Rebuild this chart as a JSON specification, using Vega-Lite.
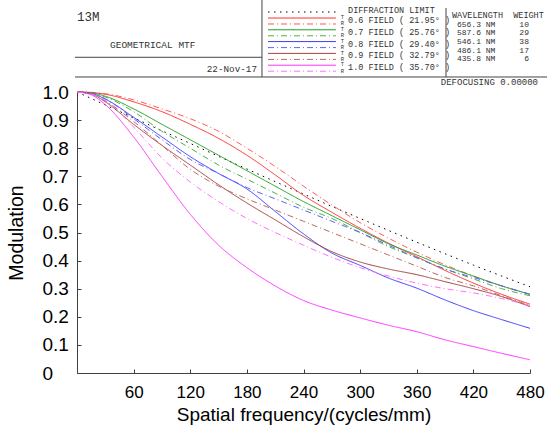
{
  "$schema": "https://vega.github.io/schema/vega-lite/v6.json",
  "width": 453,
  "height": 281,
  "autosize": {"type": "none"},
  "padding": {"left": 77, "top": 92, "right": 17, "bottom": 61},
  "background": "white",
  "resolve": {"axis": {"x": "independent", "y": "independent"}},
  "config": {
    "view": {"stroke": null},
    "legend": {"disable": true},
    "axis": {
      "grid": false,
      "domainColor": "#404040",
      "tickColor": "#404040",
      "labelColor": "#000000",
      "titleColor": "#000000",
      "labelFont": "Liberation Sans",
      "titleFont": "Liberation Sans",
      "titleFontWeight": "normal",
      "labelFlush": false,
      "labelOverlap": false
    },
    "text": {"font": "Liberation Mono", "color": "#333333", "baseline": "middle", "align": "left", "fontSize": 8.5},
    "rule": {"strokeWidth": 1}
  },
  "datasets": {
    "mtf": [
      {"f": 0, "DL": 1, "F06T": 1, "F06R": 1, "F07T": 1, "F07R": 1, "F08T": 1, "F08R": 1, "F09T": 1, "F09R": 1, "F10T": 1, "F10R": 1},
      {"f": 15, "DL": 0.977, "F06T": 0.998, "F06R": 0.999, "F07T": 0.997, "F07R": 0.996, "F08T": 0.995, "F08R": 0.995, "F09T": 0.993, "F09R": 0.993, "F10T": 0.99, "F10R": 0.993},
      {"f": 30, "DL": 0.954, "F06T": 0.992, "F06R": 0.994, "F07T": 0.985, "F07R": 0.982, "F08T": 0.975, "F08R": 0.975, "F09T": 0.965, "F09R": 0.968, "F10T": 0.955, "F10R": 0.97},
      {"f": 60, "DL": 0.908, "F06T": 0.965, "F06R": 0.972, "F07T": 0.94, "F07R": 0.93, "F08T": 0.91, "F08R": 0.905, "F09T": 0.885, "F09R": 0.895, "F10T": 0.84, "F10R": 0.875},
      {"f": 90, "DL": 0.862, "F06T": 0.93, "F06R": 0.94, "F07T": 0.885, "F07R": 0.86, "F08T": 0.84, "F08R": 0.83, "F09T": 0.81, "F09R": 0.81, "F10T": 0.7, "F10R": 0.765},
      {"f": 120, "DL": 0.817, "F06T": 0.885, "F06R": 0.905, "F07T": 0.83, "F07R": 0.8, "F08T": 0.77, "F08R": 0.76, "F09T": 0.74, "F09R": 0.725, "F10T": 0.565, "F10R": 0.68},
      {"f": 150, "DL": 0.771, "F06T": 0.835, "F06R": 0.86, "F07T": 0.775, "F07R": 0.74, "F08T": 0.71, "F08R": 0.71, "F09T": 0.67, "F09R": 0.665, "F10T": 0.455, "F10R": 0.61},
      {"f": 180, "DL": 0.726, "F06T": 0.775, "F06R": 0.8, "F07T": 0.72, "F07R": 0.69, "F08T": 0.655, "F08R": 0.66, "F09T": 0.605, "F09R": 0.62, "F10T": 0.375, "F10R": 0.55},
      {"f": 210, "DL": 0.681, "F06T": 0.705, "F06R": 0.735, "F07T": 0.665, "F07R": 0.64, "F08T": 0.575, "F08R": 0.62, "F09T": 0.545, "F09R": 0.58, "F10T": 0.31, "F10R": 0.5},
      {"f": 240, "DL": 0.637, "F06T": 0.632, "F06R": 0.665, "F07T": 0.61, "F07R": 0.59, "F08T": 0.495, "F08R": 0.58, "F09T": 0.485, "F09R": 0.54, "F10T": 0.258, "F10R": 0.455},
      {"f": 270, "DL": 0.593, "F06T": 0.572, "F06R": 0.598, "F07T": 0.56, "F07R": 0.55, "F08T": 0.427, "F08R": 0.54, "F09T": 0.432, "F09R": 0.5, "F10T": 0.224, "F10R": 0.412},
      {"f": 300, "DL": 0.55, "F06T": 0.515, "F06R": 0.535, "F07T": 0.51, "F07R": 0.5, "F08T": 0.383, "F08R": 0.5, "F09T": 0.395, "F09R": 0.46, "F10T": 0.196, "F10R": 0.375},
      {"f": 330, "DL": 0.5075, "F06T": 0.462, "F06R": 0.48, "F07T": 0.46, "F07R": 0.45, "F08T": 0.338, "F08R": 0.455, "F09T": 0.37, "F09R": 0.42, "F10T": 0.17, "F10R": 0.345},
      {"f": 360, "DL": 0.4655, "F06T": 0.414, "F06R": 0.43, "F07T": 0.42, "F07R": 0.41, "F08T": 0.302, "F08R": 0.41, "F09T": 0.35, "F09R": 0.38, "F10T": 0.147, "F10R": 0.32},
      {"f": 390, "DL": 0.4244, "F06T": 0.365, "F06R": 0.385, "F07T": 0.38, "F07R": 0.37, "F08T": 0.26, "F08R": 0.37, "F09T": 0.325, "F09R": 0.34, "F10T": 0.118, "F10R": 0.3},
      {"f": 420, "DL": 0.384, "F06T": 0.32, "F06R": 0.345, "F07T": 0.345, "F07R": 0.335, "F08T": 0.222, "F08R": 0.34, "F09T": 0.3, "F09R": 0.31, "F10T": 0.094, "F10R": 0.285},
      {"f": 450, "DL": 0.345, "F06T": 0.28, "F06R": 0.31, "F07T": 0.31, "F07R": 0.3, "F08T": 0.19, "F08R": 0.31, "F09T": 0.272, "F09R": 0.275, "F10T": 0.07, "F10R": 0.265},
      {"f": 480, "DL": 0.307, "F06T": 0.245, "F06R": 0.28, "F07T": 0.28, "F07R": 0.275, "F08T": 0.159, "F08R": 0.28, "F09T": 0.236, "F09R": 0.24, "F10T": 0.047, "F10R": 0.24}
    ]
  },
  "layer": [
    {
      "data": {"name": "mtf"},
      "transform": [{"fold": ["DL", "F06T", "F06R", "F07T", "F07R", "F08T", "F08R", "F09T", "F09R", "F10T", "F10R"], "as": ["key", "m"]}],
      "mark": {"type": "line", "strokeWidth": 1, "interpolate": "monotone"},
      "encoding": {
        "x": {
          "field": "f", "type": "quantitative",
          "scale": {"domain": [0, 480], "nice": false, "zero": false},
          "axis": {
            "values": [60, 120, 180, 240, 300, 360, 420, 480],
            "title": "Spatial frequency/(cycles/mm)",
            "tickSize": -4,
            "labelPadding": 15,
            "labelFontSize": 17,
            "labelOverlap": false,
            "titleFontSize": 19,
            "titleY": 41,
            "titleBaseline": "middle"
          }
        },
        "y": {
          "field": "m", "type": "quantitative",
          "scale": {"domain": [0, 1], "nice": false},
          "axis": {
            "values": [0, 0.1, 0.2, 0.3, 0.4, 0.5, 0.6, 0.7, 0.8, 0.9, 1],
            "labelExpr": "datum.value == 0 ? '0' : format(datum.value, '.1f')",
            "labelAlign": "left",
            "labelPadding": 39,
            "labelOverlap": false,
            "labelBound": false,
            "tickSize": -4,
            "labelFontSize": 19,
            "title": "Modulation",
            "titleFontSize": 19.5,
            "titleX": -61,
            "titleY": 140.5,
            "titleBaseline": "middle"
          }
        },
        "color": {
          "field": "key", "type": "nominal",
          "scale": {
            "domain": ["DL", "F06T", "F06R", "F07T", "F07R", "F08T", "F08R", "F09T", "F09R", "F10T", "F10R"],
            "range": ["#000000", "#ff3030", "#ff5a5a", "#22a022", "#4cb04c", "#3c3cff", "#6060ff", "#a5423c", "#b86a64", "#ff33ff", "#ff70ff"]
          },
          "legend": null
        },
        "strokeDash": {
          "field": "key", "type": "nominal",
          "scale": {
            "domain": ["DL", "F06T", "F06R", "F07T", "F07R", "F08T", "F08R", "F09T", "F09R", "F10T", "F10R"],
            "range": [[1.5, 4.5], [1, 0], [6, 3, 1, 3], [1, 0], [6, 3, 1, 3], [1, 0], [6, 3, 1, 3], [1, 0], [6, 3, 1, 3], [1, 0], [6, 3, 1, 3]]
          },
          "legend": null
        }
      }
    },
    {
      "data": {"values": [{}]},
      "layer": [
        {"mark": {"type": "rule", "color": "#444444"}, "encoding": {"x": {"datum": -2.12, "axis": null}, "x2": {"datum": 196.0}, "y": {"datum": 1.1235, "axis": null}}},
        {"mark": {"type": "rule", "color": "#444444"}, "encoding": {"x": {"datum": -2.12, "axis": null}, "x2": {"datum": 498.0}, "y": {"datum": 1.0534, "axis": null}}},
        {"mark": {"type": "rule", "color": "#444444"}, "encoding": {"x": {"datum": 196.0, "axis": null}, "y": {"datum": 1.3274, "axis": null}, "y2": {"datum": 1.0534}}},
        {"mark": {"type": "rule", "color": "#444444"}, "encoding": {"x": {"datum": 391.0, "axis": null}, "y": {"datum": 1.2989, "axis": null}, "y2": {"datum": 1.0534}}},

        {"mark": "rule", "encoding": {"x": {"datum": 202.4, "axis": null}, "x2": {"datum": 274.4}, "y": {"datum": 1.2847, "axis": null}, "color": {"datum": "DL"}, "strokeDash": {"datum": "DL"}}},
        {"mark": "rule", "encoding": {"x": {"datum": 202.4, "axis": null}, "x2": {"datum": 274.4}, "y": {"datum": 1.2633, "axis": null}, "color": {"datum": "F06T"}, "strokeDash": {"datum": "F06T"}}},
        {"mark": "rule", "encoding": {"x": {"datum": 202.4, "axis": null}, "x2": {"datum": 274.4}, "y": {"datum": 1.2420, "axis": null}, "color": {"datum": "F06R"}, "strokeDash": {"datum": "F06R"}}},
        {"mark": "rule", "encoding": {"x": {"datum": 202.4, "axis": null}, "x2": {"datum": 274.4}, "y": {"datum": 1.2214, "axis": null}, "color": {"datum": "F07T"}, "strokeDash": {"datum": "F07T"}}},
        {"mark": "rule", "encoding": {"x": {"datum": 202.4, "axis": null}, "x2": {"datum": 274.4}, "y": {"datum": 1.2000, "axis": null}, "color": {"datum": "F07R"}, "strokeDash": {"datum": "F07R"}}},
        {"mark": "rule", "encoding": {"x": {"datum": 202.4, "axis": null}, "x2": {"datum": 274.4}, "y": {"datum": 1.1794, "axis": null}, "color": {"datum": "F08T"}, "strokeDash": {"datum": "F08T"}}},
        {"mark": "rule", "encoding": {"x": {"datum": 202.4, "axis": null}, "x2": {"datum": 274.4}, "y": {"datum": 1.1580, "axis": null}, "color": {"datum": "F08R"}, "strokeDash": {"datum": "F08R"}}},
        {"mark": "rule", "encoding": {"x": {"datum": 202.4, "axis": null}, "x2": {"datum": 274.4}, "y": {"datum": 1.1374, "axis": null}, "color": {"datum": "F09T"}, "strokeDash": {"datum": "F09T"}}},
        {"mark": "rule", "encoding": {"x": {"datum": 202.4, "axis": null}, "x2": {"datum": 274.4}, "y": {"datum": 1.1160, "axis": null}, "color": {"datum": "F09R"}, "strokeDash": {"datum": "F09R"}}},
        {"mark": "rule", "encoding": {"x": {"datum": 202.4, "axis": null}, "x2": {"datum": 274.4}, "y": {"datum": 1.0954, "axis": null}, "color": {"datum": "F10T"}, "strokeDash": {"datum": "F10T"}}},
        {"mark": "rule", "encoding": {"x": {"datum": 202.4, "axis": null}, "x2": {"datum": 274.4}, "y": {"datum": 1.0740, "axis": null}, "color": {"datum": "F10R"}, "strokeDash": {"datum": "F10R"}}},

        {"mark": {"type": "text", "text": "13M", "fontSize": 12.5}, "encoding": {"x": {"datum": 0, "axis": null}, "y": {"datum": 1.2669, "axis": null}}},
        {"mark": {"type": "text", "text": "GEOMETRICAL MTF", "fontSize": 9.5}, "encoding": {"x": {"datum": 34.97, "axis": null}, "y": {"datum": 1.1673, "axis": null}}},
        {"mark": {"type": "text", "text": "22-Nov-17", "fontSize": 9.3, "align": "right"}, "encoding": {"x": {"datum": 190.7, "axis": null}, "y": {"datum": 1.0819, "axis": null}}},
        {"mark": {"type": "text", "text": "DIFFRACTION LIMIT"}, "encoding": {"x": {"datum": 287.2, "axis": null}, "y": {"datum": 1.2918, "axis": null}}},

        {"mark": {"type": "text", "text": "0.6 FIELD ( 21.95° )"}, "encoding": {"x": {"datum": 287.2, "axis": null}, "y": {"datum": 1.2562, "axis": null}}},
        {"mark": {"type": "text", "text": "0.7 FIELD ( 25.76° )"}, "encoding": {"x": {"datum": 287.2, "axis": null}, "y": {"datum": 1.2142, "axis": null}}},
        {"mark": {"type": "text", "text": "0.8 FIELD ( 29.40° )"}, "encoding": {"x": {"datum": 287.2, "axis": null}, "y": {"datum": 1.1722, "axis": null}}},
        {"mark": {"type": "text", "text": "0.9 FIELD ( 32.79° )"}, "encoding": {"x": {"datum": 287.2, "axis": null}, "y": {"datum": 1.1302, "axis": null}}},
        {"mark": {"type": "text", "text": "1.0 FIELD ( 35.70° )"}, "encoding": {"x": {"datum": 287.2, "axis": null}, "y": {"datum": 1.0883, "axis": null}}},

        {"mark": {"type": "text", "text": "T", "fontSize": 5.5, "align": "center"}, "encoding": {"x": {"datum": 281.3, "axis": null}, "y": {"datum": 1.2658, "axis": null}}},
        {"mark": {"type": "text", "text": "R", "fontSize": 5.5, "align": "center"}, "encoding": {"x": {"datum": 281.3, "axis": null}, "y": {"datum": 1.2445, "axis": null}}},
        {"mark": {"type": "text", "text": "T", "fontSize": 5.5, "align": "center"}, "encoding": {"x": {"datum": 281.3, "axis": null}, "y": {"datum": 1.2238, "axis": null}}},
        {"mark": {"type": "text", "text": "R", "fontSize": 5.5, "align": "center"}, "encoding": {"x": {"datum": 281.3, "axis": null}, "y": {"datum": 1.2025, "axis": null}}},
        {"mark": {"type": "text", "text": "T", "fontSize": 5.5, "align": "center"}, "encoding": {"x": {"datum": 281.3, "axis": null}, "y": {"datum": 1.1818, "axis": null}}},
        {"mark": {"type": "text", "text": "R", "fontSize": 5.5, "align": "center"}, "encoding": {"x": {"datum": 281.3, "axis": null}, "y": {"datum": 1.1605, "axis": null}}},
        {"mark": {"type": "text", "text": "T", "fontSize": 5.5, "align": "center"}, "encoding": {"x": {"datum": 281.3, "axis": null}, "y": {"datum": 1.1399, "axis": null}}},
        {"mark": {"type": "text", "text": "R", "fontSize": 5.5, "align": "center"}, "encoding": {"x": {"datum": 281.3, "axis": null}, "y": {"datum": 1.1185, "axis": null}}},
        {"mark": {"type": "text", "text": "T", "fontSize": 5.5, "align": "center"}, "encoding": {"x": {"datum": 281.3, "axis": null}, "y": {"datum": 1.0979, "axis": null}}},
        {"mark": {"type": "text", "text": "R", "fontSize": 5.5, "align": "center"}, "encoding": {"x": {"datum": 281.3, "axis": null}, "y": {"datum": 1.0765, "axis": null}}},

        {"mark": {"type": "text", "text": "WAVELENGTH\u00a0\u00a0WEIGHT"}, "encoding": {"x": {"datum": 397.35, "axis": null}, "y": {"datum": 1.274, "axis": null}}},
        {"mark": {"type": "text", "text": "656.3 NM\u00a0\u00a0\u00a0\u00a0\u00a010", "fontSize": 8}, "encoding": {"x": {"datum": 402.6, "axis": null}, "y": {"datum": 1.2384, "axis": null}}},
        {"mark": {"type": "text", "text": "587.6 NM\u00a0\u00a0\u00a0\u00a0\u00a029", "fontSize": 8}, "encoding": {"x": {"datum": 402.6, "axis": null}, "y": {"datum": 1.2089, "axis": null}}},
        {"mark": {"type": "text", "text": "546.1 NM\u00a0\u00a0\u00a0\u00a0\u00a038", "fontSize": 8}, "encoding": {"x": {"datum": 402.6, "axis": null}, "y": {"datum": 1.1790, "axis": null}}},
        {"mark": {"type": "text", "text": "486.1 NM\u00a0\u00a0\u00a0\u00a0\u00a017", "fontSize": 8}, "encoding": {"x": {"datum": 402.6, "axis": null}, "y": {"datum": 1.1470, "axis": null}}},
        {"mark": {"type": "text", "text": "435.8 NM\u00a0\u00a0\u00a0\u00a0\u00a0\u00a06", "fontSize": 8}, "encoding": {"x": {"datum": 402.6, "axis": null}, "y": {"datum": 1.1164, "axis": null}}},
        {"mark": {"type": "text", "text": "DEFOCUSING 0.00000", "fontSize": 9, "align": "right"}, "encoding": {"x": {"datum": 488.5, "axis": null}, "y": {"datum": 1.0356, "axis": null}}}
      ]
    }
  ]
}
